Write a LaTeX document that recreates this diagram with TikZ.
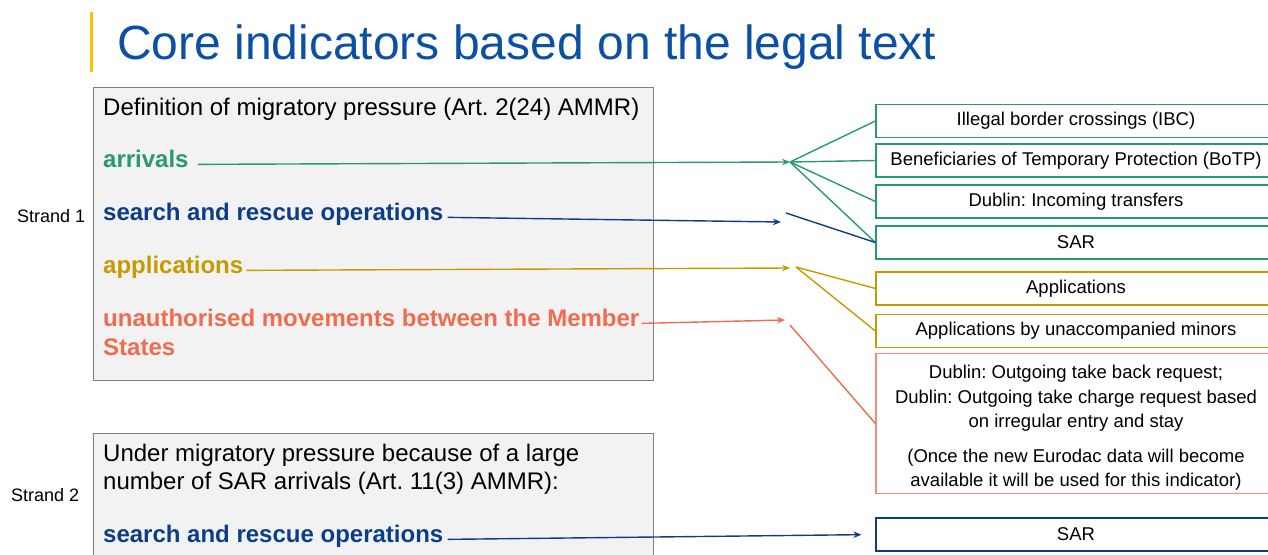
\documentclass[tikz,border=0pt]{standalone}
\usepackage{fontspec}
\setmainfont{Liberation Sans}
\usetikzlibrary{arrows.meta}
\frenchspacing
\definecolor{titleblue}{RGB}{10,80,165}
\definecolor{barcol}{RGB}{255,192,0}
\definecolor{arrgreen}{RGB}{40,155,110}
\definecolor{sarblue}{RGB}{12,62,135}
\definecolor{appgold}{RGB}{197,155,0}
\definecolor{movred}{RGB}{238,108,80}
\definecolor{movbox}{RGB}{242,140,120}
\definecolor{panelgray}{RGB}{242,242,242}
\newcommand{\itemfont}{\fontsize{24}{28}\selectfont}
\newcommand{\boxfont}{\fontsize{18.5}{24.5}\selectfont}
\tikzstyle{panel} = [rectangle, 
draw=black!50, 
fill=panelgray, 
line width=1pt, 
anchor=north west, 
minimum width=560pt]
\tikzstyle{item} = [anchor=base west, inner sep=0pt, font=\itemfont]
\tikzstyle{indicator} = [rectangle, 
minimum width=400pt, 
minimum height=33pt, 
text centered, 
line width=1.2pt, 
font=\boxfont]
\tikzstyle{arrow} = [line width=1.4pt,-{Stealth[length=8pt,width=6.5pt]}]
\tikzstyle{fan} = [line width=1.4pt]

\begin{document}
\begin{tikzpicture}[x=1pt, y=-1pt, node distance=41pt]
        \useasboundingbox (0,0) rectangle (1268,554);
        \clip (0,0) rectangle (1268,554);
        % heading
        \draw [barcol, line width=3pt] (91.5,12) -- (91.5,72);
        \node (title) [anchor=base west, inner sep=0pt, text=titleblue, font=\fontsize{48}{56}\selectfont] at (117,59) {Core indicators based on the legal text};
        % strand 1
        \node (panelA) [panel, minimum height=293pt] at (93,87) {};
        \node (strandA) [font=\fontsize{18}{22}\selectfont, anchor=base west, inner sep=0pt] at (17,222) {Strand 1};
        \node (defn) [item] at (103,115) {Definition of migratory pressure (Art. 2(24) AMMR)};
        \node (arr) [item, text=arrgreen, font=\itemfont\bfseries] at (103,167) {arrivals};
        \node (sar) [item, text=sarblue, font=\itemfont\bfseries] at (103,220) {search and rescue operations};
        \node (app) [item, text=appgold, font=\itemfont\bfseries] at (103,273) {applications};
        \node (mov) [item, text=movred, font=\itemfont\bfseries] at (103,326) {unauthorised movements between the Member};
        \node (movb) [item, text=movred, font=\itemfont\bfseries] at (103,355) {States};
        % strand 2
        \node (panelB) [panel, minimum height=140pt] at (93,433) {};
        \node (strandB) [font=\fontsize{18}{22}\selectfont, anchor=base west, inner sep=0pt] at (11,501) {Strand 2};
        \node (under) [item] at (103,461) {Under migratory pressure because of a large};
        \node (underb) [item] at (103,489) {number of SAR arrivals (Art. 11(3) AMMR):};
        \node (sarB) [item, text=sarblue, font=\itemfont\bfseries] at (103,542) {search and rescue operations};
        % indicators
        \node (ibc) [indicator, draw=arrgreen] at (1076,121) {Illegal border crossings (IBC)};
        \node (botp) [indicator, draw=arrgreen, below of=ibc, yshift=1.5pt] {Beneficiaries of Temporary Protection (BoTP)};
        \node (dubin) [indicator, draw=arrgreen, below of=botp] {Dublin: Incoming transfers};
        \node (sarind) [indicator, draw=arrgreen, below of=dubin] {SAR};
        \node (appind) [indicator, draw=appgold] at (1076,288.5) {Applications};
        \node (uam) [indicator, draw=appgold, below of=appind, yshift=-1.5pt] {Applications by unaccompanied minors};
        \node (dubout) [indicator, draw=movbox, minimum height=137pt, align=center] at (1076,423.5) {\rule{0pt}{22pt}Dublin: Outgoing take back request;\\Dublin: Outgoing take charge request based\\on irregular entry and stay\\[10pt](Once the new Eurodac data will become\\available it will be used for this indicator)};
        \node (sarindB) [indicator, draw=sarblue] at (1076,534.5) {SAR};
        % hubs
        \coordinate (arrhub) at (790,162);
        \coordinate (sarhub) at (781,222);
        \coordinate (sarfan) at (786,213);
        \coordinate (apphub) at (790,268);
        \coordinate (appfan) at (796,267);
        \coordinate (movhub) at (785,320);
        \coordinate (movfan) at (790,325);
        % connectors
        \draw [arrow, arrgreen] ([xshift=9pt]arr.mid east) -- (arrhub);
        \draw [fan, arrgreen] (arrhub) -- (ibc.west);
        \draw [fan, arrgreen] (arrhub) -- (botp.west);
        \draw [fan, arrgreen] (arrhub) -- (dubin.west);
        \draw [fan, arrgreen] (arrhub) -- (sarind.west);
        \draw [arrow, sarblue] ([xshift=4pt]sar.mid east) -- (sarhub);
        \draw [fan, sarblue] (sarfan) -- (sarind.west);
        \draw [arrow, appgold] ([xshift=3pt]app.mid east) -- (apphub);
        \draw [fan, appgold] (appfan) -- (appind.west);
        \draw [fan, appgold] (appfan) -- (uam.west);
        \draw [arrow, movred] ([xshift=2pt]mov.mid east) -- (movhub);
        \draw [fan, movred] (movfan) -- (dubout.west);
        \draw [arrow, sarblue, shorten >=14pt] ([xshift=4pt]sarB.mid east) -- (sarindB.west);
    \end{tikzpicture}
\end{document}
